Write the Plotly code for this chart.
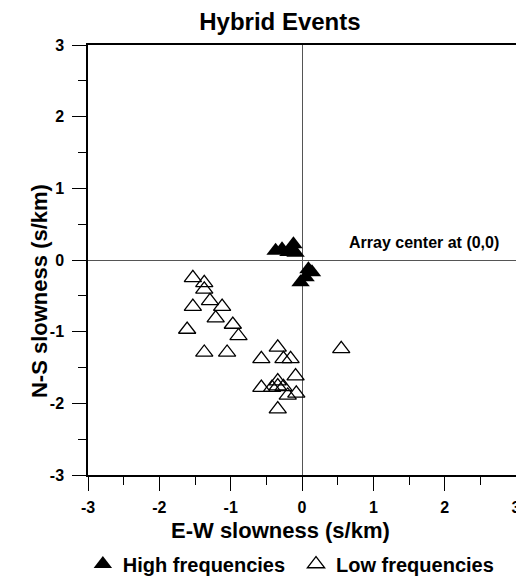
import plotly.graph_objects as go

high_x = [-0.12, -0.37, -0.28, -0.19, -0.15, -0.09, 0.09, 0.14, 0.05, -0.02]
high_y = [0.22, 0.13, 0.15, 0.11, 0.12, 0.10, -0.13, -0.17, -0.24, -0.31]

low_x = [-1.53, -1.37, -1.37, -1.29, -1.53, -1.12, -1.21, -0.97, -0.89, -1.61,
         -1.37, -1.05, -0.34, -0.57, -0.26, -0.16, 0.55, -0.09, -0.57, -0.42,
         -0.34, -0.34, -0.26, -0.20, -0.08, -0.34]
low_y = [-0.25, -0.32, -0.41, -0.57, -0.65, -0.65, -0.81, -0.90, -1.06, -0.97,
         -1.29, -1.29, -1.22, -1.38, -1.38, -1.38, -1.24, -1.62, -1.78, -1.78,
         -1.69, -1.76, -1.77, -1.89, -1.86, -2.08]

tick_vals = [-3, -2, -1, 0, 1, 2, 3]
tick_text = ["-3", "-2", "-1", "0", "1", "2", "3"]
FONT = "Liberation Sans"

fig = go.Figure()
fig.add_trace(go.Scatter(x=high_x, y=high_y, mode="markers", name="High frequencies",
                         legend="legend",
                         marker=dict(symbol="triangle-up", size=16, color="black",
                                     line=dict(width=0))))
fig.add_trace(go.Scatter(x=low_x, y=low_y, mode="markers", name="Low frequencies",
                         legend="legend2",
                         marker=dict(symbol="triangle-up-open", size=15, color="black",
                                     line=dict(width=1.3))))

axis_common = dict(range=[-3, 3], tickvals=tick_vals, ticktext=tick_text,
                   ticks="outside", ticklen=14,
                   tickwidth=1.2, tickcolor="black", showgrid=False, zeroline=True,
                   zerolinecolor="#555", zerolinewidth=1, showline=True,
                   linecolor="black", linewidth=1.5, mirror=True,
                   ticklabeloverflow="allow",
                   tickfont=dict(family=FONT, size=16, color="black", weight="bold"),
                   minor=dict(dtick=0.5, ticks="outside", ticklen=8, tickcolor="black",
                              tickwidth=1.2, showgrid=False))

fig.update_xaxes(**axis_common, ticklabelstandoff=3)
fig.update_yaxes(**axis_common, ticklabelstandoff=5)

fig.add_annotation(x=0.63, y=0.25, xref="x", yref="y", text="Array center at (0,0)",
                   showarrow=False, xanchor="left", yanchor="middle",
                   font=dict(family=FONT, size=16, color="black", weight="bold"))

fig.add_annotation(x=0.449, y=-0.13, xref="paper", yref="paper",
                   text="E-W slowness (s/km)", showarrow=False,
                   xanchor="center", yanchor="middle",
                   font=dict(family=FONT, size=22, color="black", weight="bold"))
fig.add_annotation(x=-0.112, y=0.428, xref="paper", yref="paper",
                   text="N-S slowness (s/km)", showarrow=False, textangle=-90,
                   xanchor="center", yanchor="middle",
                   font=dict(family=FONT, size=22, color="black", weight="bold"))

legend_font = dict(family=FONT, size=20, color="black", weight="bold")
fig.update_layout(
    width=516, height=570,
    margin=dict(l=80, r=8, t=37, b=103, autoexpand=False),
    paper_bgcolor="white", plot_bgcolor="white",
    title=dict(text="Hybrid Events", x=0.527, xanchor="center", y=0.977, yanchor="middle",
               font=dict(family=FONT, size=24, color="black", weight="bold")),
    showlegend=True,
    legend=dict(x=-0.012, xanchor="left", y=-0.207, yanchor="middle",
                font=legend_font, bgcolor="rgba(0,0,0,0)"),
    legend2=dict(x=0.486, xanchor="left", y=-0.207, yanchor="middle",
                 font=legend_font, bgcolor="rgba(0,0,0,0)"),
)

fig.write_html("out.html")
